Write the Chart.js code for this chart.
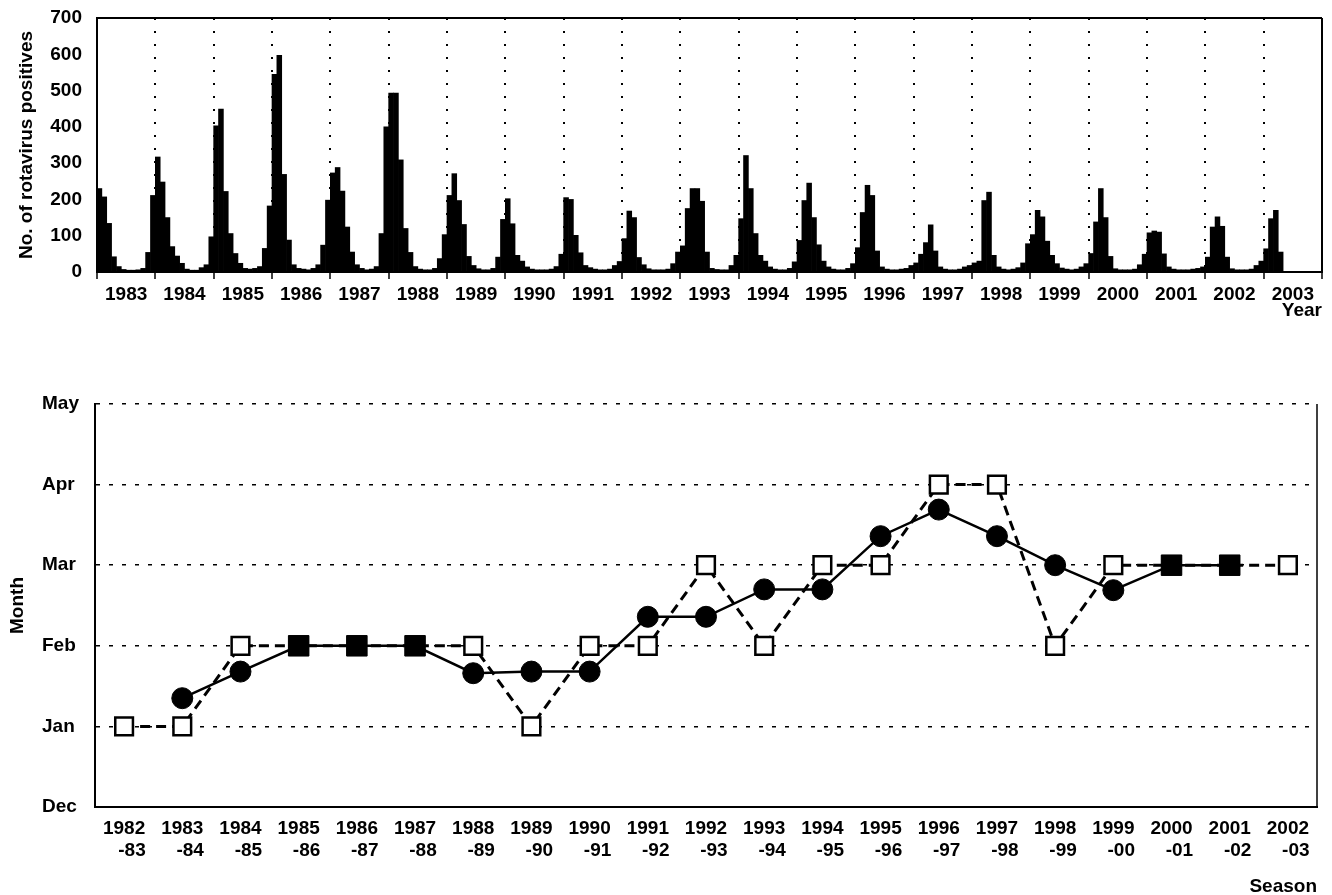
<!DOCTYPE html>
<html>
<head>
<meta charset="utf-8">
<title>Rotavirus positives and peak month by season</title>
<script src="https://cdn.jsdelivr.net/npm/chart.js@4.4.1/dist/chart.umd.min.js"></script>
<style>
  html, body { margin: 0; padding: 0; background: #fff; }
  #wrap { position: relative; width: 1332px; height: 895px; }
  #top { position: absolute; left: 0; top: 0; }
  #bottom { position: absolute; left: 0; top: 370px; }
</style>
</head>
<body>
<div id="wrap">
  <canvas id="top" width="1332" height="325"></canvas>
  <canvas id="bottom" width="1332" height="525"></canvas>
</div>
<script>
// ── data ──────────────────────────────────────────────────
const years = [1983, 1984, 1985, 1986, 1987, 1988, 1989, 1990, 1991, 1992, 1993,
               1994, 1995, 1996, 1997, 1998, 1999, 2000, 2001, 2002, 2003];

// monthly rotavirus positives, Jan 1983 onwards
const monthlyPositives = [
  230, 207, 134, 42, 15, 7, 5, 5, 6, 10, 54, 211,      // 1983
  317, 248, 150, 70, 44, 24, 8, 5, 5, 12, 20, 97,      // 1984
  403, 449, 222, 106, 51, 24, 10, 8, 10, 15, 65, 182,  // 1985
  545, 597, 269, 88, 20, 10, 8, 6, 10, 20, 74, 198,    // 1986
  273, 288, 223, 124, 55, 20, 10, 6, 8, 15, 106, 400,  // 1987
  493, 493, 309, 120, 54, 15, 8, 6, 6, 10, 37, 103,    // 1988
  211, 271, 197, 131, 43, 18, 9, 6, 6, 10, 41, 145,    // 1989
  202, 133, 46, 30, 14, 8, 6, 6, 6, 8, 15, 49,         // 1990
  205, 200, 101, 53, 18, 12, 8, 6, 6, 8, 18, 29,       // 1991
  92, 168, 150, 40, 20, 9, 6, 6, 6, 8, 23, 55,         // 1992
  72, 175, 230, 230, 195, 55, 10, 7, 6, 6, 18, 46,     // 1993
  147, 321, 230, 106, 46, 30, 14, 8, 6, 6, 10, 28,     // 1994
  87, 197, 245, 150, 75, 30, 14, 8, 6, 6, 10, 23,      // 1995
  67, 164, 239, 211, 58, 14, 8, 6, 6, 8, 10, 18,       // 1996
  25, 49, 81, 130, 58, 14, 8, 6, 6, 8, 14, 18,         // 1997
  25, 30, 197, 220, 46, 14, 8, 6, 8, 12, 25, 78,       // 1998
  103, 170, 152, 85, 46, 23, 11, 8, 6, 8, 14, 23,      // 1999
  51, 138, 230, 150, 43, 9, 6, 6, 6, 8, 20, 49,        // 2000
  108, 113, 110, 50, 14, 8, 6, 6, 6, 8, 10, 14,        // 2001
  41, 124, 152, 126, 41, 9, 6, 6, 6, 8, 18, 30,        // 2002
  64, 147, 170, 55                                     // 2003
];
const countTicks = [0, 100, 200, 300, 400, 500, 600, 700];

const seasonStart = ['1982', '1983', '1984', '1985', '1986', '1987', '1988', '1989', '1990', '1991', '1992',
                     '1993', '1994', '1995', '1996', '1997', '1998', '1999', '2000', '2001', '2002'];
const seasonEnd = ['-83', '-84', '-85', '-86', '-87', '-88', '-89', '-90', '-91', '-92', '-93',
                   '-94', '-95', '-96', '-97', '-98', '-99', '-00', '-01', '-02', '-03'];
const monthNames = ['Dec', 'Jan', 'Feb', 'Mar', 'Apr', 'May'];

// filled circles (solid line) and open squares (dashed line), Dec = 0
const centreMonth = [null, 1.35, 1.68, 2, 2, 2, 1.66, 1.68, 1.68, 2.36, 2.36,
                     2.7, 2.7, 3.36, 3.69, 3.36, 3.0, 2.69, 3, 3, null];
const peakMonth = [1, 1, 2, 2, 2, 2, 2, 1, 2, 2, 3,
                   2, 3, 3, 4, 4, 2, 3, 3, 3, 3];

// ── shared style ──────────────────────────────────────────
Chart.defaults.font.family = '"Liberation Sans", Arial, sans-serif';
Chart.defaults.font.size = 19;
Chart.defaults.font.weight = 'bold';
Chart.defaults.color = '#000';

const frame = {
  id: 'frame',
  afterDraw(chart, args, opts) {
    const { ctx, chartArea: a } = chart;
    ctx.save();
    ctx.strokeStyle = '#000';
    ctx.lineWidth = opts.width || 2;
    ctx.beginPath();
    if (opts.top) { ctx.moveTo(a.left, a.top); ctx.lineTo(a.right, a.top); }
    ctx.moveTo(a.right, a.top);
    ctx.lineTo(a.right, a.bottom);
    ctx.stroke();
    ctx.restore();
  }
};

// ── top: monthly positives ────────────────────────────────
const nMonths = years.length * 12;
const isYearEdge = c => c.tick && c.tick.value % 12 === 0;

new Chart(document.getElementById('top'), {
  type: 'bar',
  data: {
    datasets: [{
      data: monthlyPositives.map((v, i) => ({ x: i + 0.5, y: v })),
      backgroundColor: '#000',
      borderWidth: 0,
      barPercentage: 1,
      categoryPercentage: 1
    }]
  },
  options: {
    responsive: false,
    animation: false,
    layout: { padding: { top: 18, right: 10, left: 0, bottom: 0 } },
    plugins: {
      legend: { display: false },
      tooltip: { enabled: false },
      frame: { top: true, width: 2 }
    },
    scales: {
      x: {
        type: 'linear',
        min: 0,
        max: nMonths,
        offset: false,
        afterBuildTicks: s => {
          const t = [];
          for (let v = 0; v <= nMonths; v += 6) t.push({ value: v });
          s.ticks = t;
        },
        afterFit: s => { s.height = 53; },
        ticks: {
          autoSkip: false,
          maxRotation: 0,
          padding: 4,
          callback: v => (v % 12 === 6 ? String(years[(v - 6) / 12]) : '')
        },
        grid: {
          offset: false,
          color: c => (isYearEdge(c) ? '#000' : 'rgba(0,0,0,0)'),
          lineWidth: 2,
          tickLength: 7,
          tickWidth: 1.5,
          tickColor: c => (isYearEdge(c) ? '#000' : 'rgba(0,0,0,0)')
        },
        border: { color: '#000', width: 2, dash: [2, 11] },
        title: { display: true, text: 'Year', align: 'end', padding: { top: 0, bottom: 3 } }
      },
      y: {
        min: 0,
        max: 700,
        afterBuildTicks: s => { s.ticks = countTicks.map(v => ({ value: v })); },
        afterFit: s => { s.width = 97; },
        ticks: { padding: 2 },
        grid: { drawOnChartArea: false, drawTicks: true, tickLength: 13, tickColor: 'rgba(0,0,0,0)' },
        border: { color: '#000', width: 2 },
        title: { display: true, text: 'No. of rotavirus positives', padding: { top: 15, bottom: 0 } }
      }
    }
  },
  plugins: [frame]
});

// ── bottom: peak month per season ─────────────────────────
const same = i => centreMonth[i] !== null && centreMonth[i] === peakMonth[i];

new Chart(document.getElementById('bottom'), {
  type: 'line',
  data: {
    labels: seasonStart.map((s, i) => [s, '   ' + seasonEnd[i]]),
    datasets: [{
      data: centreMonth,
      borderColor: '#000',
      borderWidth: 2.5,
      pointStyle: c => (same(c.dataIndex) ? 'rect' : 'circle'),
      pointRadius: c => (same(c.dataIndex) ? 14.5 : 10.5),
      pointBackgroundColor: '#000',
      pointBorderColor: '#000',
      pointBorderWidth: 1
    }, {
      data: peakMonth,
      borderColor: '#000',
      borderWidth: 3,
      borderDash: [10, 6],
      pointStyle: 'rect',
      pointRadius: 12.5,
      pointBackgroundColor: '#fff',
      pointBorderColor: '#000',
      pointBorderWidth: 2.5
    }]
  },
  options: {
    responsive: false,
    animation: false,
    layout: { padding: { top: 34, right: 14, left: 42, bottom: 0 } },
    plugins: {
      legend: { display: false },
      tooltip: { enabled: false },
      frame: { top: false, width: 1.5 }
    },
    scales: {
      x: {
        offset: true,
        afterFit: s => { s.height = 88; },
        ticks: { autoSkip: false, maxRotation: 0, padding: 10 },
        grid: { offset: true, drawOnChartArea: false, drawTicks: false },
        border: { color: '#000', width: 2 },
        title: { display: true, text: 'Season', align: 'end', padding: { top: 0, bottom: -3 } }
      },
      y: {
        min: 0,
        max: 5,
        afterBuildTicks: s => { s.ticks = monthNames.map((m, i) => ({ value: i })); },
        afterFit: s => { s.width = 53; },
        ticks: { crossAlign: 'far', padding: 0, callback: v => monthNames[v] },
        grid: {
          color: c => (c.tick && c.tick.value === 0 ? 'rgba(0,0,0,0)' : '#000'),
          lineWidth: 1.5,
          drawTicks: false
        },
        border: { color: '#000', width: 2, dash: [4, 9] },
        title: { display: true, text: 'Month', padding: { top: -36, bottom: 0 } }
      }
    }
  },
  plugins: [frame]
});
</script>
</body>
</html>
